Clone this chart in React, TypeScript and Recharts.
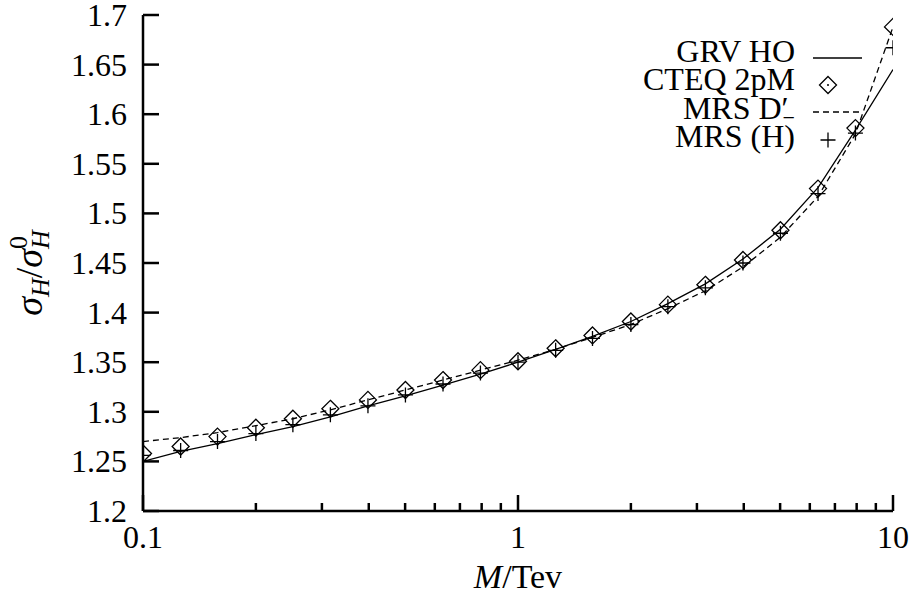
import { ComposedChart, Line, XAxis, YAxis, Legend } from "recharts";

// M in TeV (log-spaced points)
const M_TEV = [0.1, 0.126, 0.158, 0.2, 0.251, 0.316, 0.398, 0.501, 0.631, 0.794, 1, 1.26, 1.58, 2, 2.51, 3.16, 3.98, 5.01, 6.31, 7.94, 10];

// sigma_H / sigma_H^0 for each parton set
const GRV_HO = [1.25, 1.26, 1.268, 1.277, 1.285, 1.295, 1.306, 1.316, 1.327, 1.338, 1.35, 1.363, 1.376, 1.391, 1.409, 1.429, 1.454, 1.484, 1.526, 1.584, 1.645];
const CTEQ_2PM = [1.258, 1.265, 1.275, 1.284, 1.293, 1.303, 1.312, 1.322, 1.332, 1.342, 1.351, 1.364, 1.377, 1.391, 1.408, 1.428, 1.453, 1.483, 1.525, 1.586, 1.688];
const MRS_DPRIME = [1.27, 1.274, 1.279, 1.286, 1.293, 1.302, 1.312, 1.322, 1.332, 1.342, 1.352, 1.363, 1.375, 1.388, 1.404, 1.422, 1.446, 1.476, 1.517, 1.58, 1.688];
const MRS_H = [1.256, 1.261, 1.27, 1.278, 1.287, 1.297, 1.306, 1.317, 1.328, 1.339, 1.35, 1.362, 1.374, 1.388, 1.406, 1.425, 1.45, 1.48, 1.52, 1.581, 1.667];

const X_TICKS = [0.1, 0.2, 0.3, 0.4, 0.5, 0.6, 0.7, 0.8, 0.9, 1, 2, 3, 4, 5, 6, 7, 8, 9, 10];
const X_MAJOR = [0.1, 1, 10];
const Y_TICKS = [1.2, 1.25, 1.3, 1.35, 1.4, 1.45, 1.5, 1.55, 1.6, 1.65, 1.7];

const data = M_TEV.map((m, i) => ({
  m,
  grv: GRV_HO[i],
  cteq: CTEQ_2PM[i],
  mrsD: MRS_DPRIME[i],
  mrsH: MRS_H[i],
}));

const FONT = "'Liberation Serif', 'Times New Roman', serif";
const AXIS_W = 2.5;

const Diamond = ({ cx, cy, dotted }: any) => (
  <g>
    <path d={`M${cx},${cy - 8.5}L${cx + 8.5},${cy}L${cx},${cy + 8.5}L${cx - 8.5},${cy}Z`} fill="none" stroke="#000" strokeWidth={1.3} />
    {dotted && <circle cx={cx} cy={cy} r={1} fill="#000" />}
  </g>
);

const Plus = ({ cx, cy }: any) => (
  <path d={`M${cx - 7.5},${cy}H${cx + 7.5}M${cx},${cy - 7.5}V${cy + 7.5}`} stroke="#000" strokeWidth={1.3} fill="none" />
);

const fmtY = (v: number) => String(v);

const BottomTick = ({ x, y, payload }: any) => {
  const major = X_MAJOR.includes(payload.value);
  return (
    <g>
      <line x1={x} y1={y} x2={x} y2={y - (major ? 16 : 8)} stroke="#000" strokeWidth={AXIS_W} />
      {major && (
        <text x={x} y={y + 37} textAnchor="middle" fontFamily={FONT} fontSize={32} fill="#000">
          {payload.value}
        </text>
      )}
    </g>
  );
};

const TopTick = ({ x, y, payload }: any) => {
  const major = X_MAJOR.includes(payload.value);
  return <line x1={x} y1={y} x2={x} y2={y + (major ? 16 : 8)} stroke="#000" strokeWidth={AXIS_W} />;
};

const LeftTick = ({ x, y, payload }: any) => (
  <g>
    <line x1={x} y1={y} x2={x + 16} y2={y} stroke="#000" strokeWidth={AXIS_W} />
    <text x={x - 16} y={y + 11} textAnchor="end" fontFamily={FONT} fontSize={32} fill="#000">
      {fmtY(payload.value)}
    </text>
  </g>
);

const RightTick = ({ x, y }: any) => <line x1={x} y1={y} x2={x - 16} y2={y} stroke="#000" strokeWidth={AXIS_W} />;

const XTitle = ({ viewBox }: any) => {
  const cx = viewBox.x + viewBox.width / 2;
  return (
    <text x={cx} y={viewBox.y + 77} textAnchor="middle" fontFamily={FONT} fontSize={34} fill="#000">
      <tspan fontStyle="italic">M</tspan>
      <tspan>/Tev</tspan>
    </text>
  );
};

const YTitle = ({ viewBox }: any) => {
  const x = 42;
  const y = viewBox.y + viewBox.height / 2 + 10;
  return (
    <text x={x} y={y} transform={`rotate(-90, ${x}, ${y})`} textAnchor="middle" fontFamily={FONT} fontSize={38} fill="#000">
      <tspan fontStyle="italic">σ</tspan>
      <tspan fontStyle="italic" fontSize={26} dy={7}>H</tspan>
      <tspan dy={-7}>/</tspan>
      <tspan fontStyle="italic">σ</tspan>
      <tspan fontSize={26} dy={-15}>0</tspan>
      <tspan fontStyle="italic" fontSize={26} dx={-13} dy={22}>H</tspan>
    </text>
  );
};

const LegendBox = () => {
  const rows = [
    { label: "GRV HO", ty: 32, sy: 28, kind: "solid" },
    { label: "CTEQ 2pM", ty: 60, sy: 55, kind: "diamond" },
    { label: "MRS D′", ty: 89, sy: 82, kind: "dashed" },
    { label: "MRS (H)", ty: 117, sy: 110, kind: "plus" },
  ];
  return (
    <svg width={280} height={135}>
      {rows.map((r) => (
        <g key={r.label}>
          <text x={195} y={r.ty} textAnchor="end" fontFamily={FONT} fontSize={32} fill="#000">
            {r.label}
            {r.kind === "dashed" && (
              <tspan fontSize={22} dx={-6} dy={6}>−</tspan>
            )}
          </text>
          {r.kind === "solid" && <line x1={213} x2={262} y1={r.sy} y2={r.sy} stroke="#000" strokeWidth={1.3} />}
          {r.kind === "dashed" && <line x1={213} x2={262} y1={r.sy} y2={r.sy} stroke="#000" strokeWidth={1.3} strokeDasharray="6 4" />}
          {r.kind === "diamond" && <Diamond cx={228} cy={r.sy} dotted />}
          {r.kind === "plus" && <Plus cx={228} cy={r.sy} />}
        </g>
      ))}
    </svg>
  );
};

export default function App() {
  return (
    <div style={{ position: "absolute", left: 0, top: 0, width: 912, height: 594, background: "#fff" }}>
      <ComposedChart width={912} height={594} data={data} margin={{ top: 15, right: 19, left: 0, bottom: 0 }}>
        <XAxis
          dataKey="m"
          type="number"
          scale="log"
          domain={[0.1, 10]}
          allowDataOverflow
          ticks={X_TICKS}
          interval={0}
          height={83}
          tickSize={0}
          tickMargin={0}
          tickLine={false}
          axisLine={{ stroke: "#000", strokeWidth: AXIS_W }}
          tick={BottomTick}
          label={(p: any) => <XTitle {...p} />}
        />
        <XAxis
          xAxisId="top"
          orientation="top"
          type="number"
          scale="log"
          domain={[0.1, 10]}
          allowDataOverflow
          ticks={X_TICKS}
          interval={0}
          height={0}
          tickSize={0}
          tickMargin={0}
          tickLine={false}
          axisLine={{ stroke: "#000", strokeWidth: AXIS_W }}
          tick={TopTick}
        />
        <YAxis
          type="number"
          domain={[1.2, 1.7]}
          allowDataOverflow
          ticks={Y_TICKS}
          interval={0}
          width={143}
          tickSize={0}
          tickMargin={0}
          tickLine={false}
          axisLine={{ stroke: "#000", strokeWidth: AXIS_W }}
          tick={LeftTick}
          label={(p: any) => <YTitle {...p} />}
        />
        <YAxis
          yAxisId="right"
          orientation="right"
          type="number"
          domain={[1.2, 1.7]}
          allowDataOverflow
          ticks={Y_TICKS}
          interval={0}
          width={0}
          tickSize={0}
          tickMargin={0}
          tickLine={false}
          axisLine={{ stroke: "#000", strokeWidth: AXIS_W }}
          tick={RightTick}
        />
        <Legend
          layout="vertical"
          align="center"
          verticalAlign="middle"
          content={() => <LegendBox />}
          wrapperStyle={{ left: 600, top: 30, width: 280, height: 135 }}
        />
        <Line dataKey="grv" stroke="#000" strokeWidth={1.3} dot={false} activeDot={false} isAnimationActive={false} />
        <Line dataKey="mrsD" stroke="#000" strokeWidth={1.3} strokeDasharray="6 4" dot={false} activeDot={false} isAnimationActive={false} />
        <Line
          dataKey="cteq"
          stroke="none"
          dot={(p: any) => <Diamond key={`d${p.index}`} cx={p.cx} cy={p.cy} />}
          activeDot={false}
          isAnimationActive={false}
        />
        <Line
          dataKey="mrsH"
          stroke="none"
          dot={(p: any) => <Plus key={`p${p.index}`} cx={p.cx} cy={p.cy} />}
          activeDot={false}
          isAnimationActive={false}
        />
      </ComposedChart>
    </div>
  );
}
